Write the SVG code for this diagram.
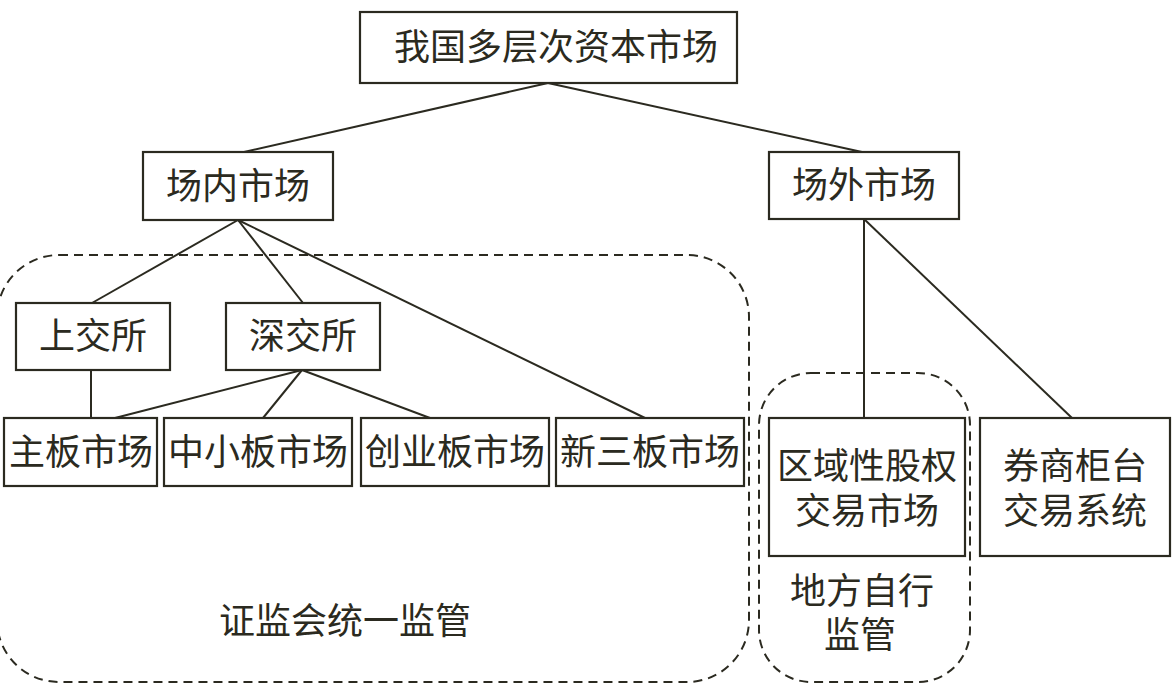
<svg xmlns="http://www.w3.org/2000/svg" width="1172" height="684" viewBox="0 0 1172 684">
<style>
.box{fill:#fff;stroke:#2b2a20;stroke-width:2.2}
.ln{fill:none;stroke:#2b2a20;stroke-width:2}
.dash{fill:none;stroke:#2b2a20;stroke-width:2;stroke-dasharray:9 6}
text{font-family:"Noto Sans CJK SC","Noto Sans",sans-serif;font-size:36px;fill:#2b2a20;text-anchor:middle}
</style>
<rect width="1172" height="684" fill="#fff"/>
<g id="regions">
<rect class="dash" x="-3" y="255" width="752" height="427" rx="62" ry="62"/>
<rect class="dash" x="759" y="373" width="211" height="309" rx="52" ry="52"/>
</g>
<g id="connectors">
<line class="ln" x1="548" y1="83" x2="244" y2="152"/>
<line class="ln" x1="548" y1="83" x2="862" y2="152"/>
<line class="ln" x1="238" y1="220" x2="92" y2="303"/>
<line class="ln" x1="238" y1="220" x2="303" y2="303"/>
<line class="ln" x1="238" y1="220" x2="645" y2="418"/>
<line class="ln" x1="91" y1="370" x2="91" y2="418"/>
<line class="ln" x1="302" y1="370" x2="115" y2="418"/>
<line class="ln" x1="302" y1="370" x2="263" y2="418"/>
<line class="ln" x1="302" y1="370" x2="430" y2="418"/>
<line class="ln" x1="864" y1="219" x2="864" y2="418"/>
<line class="ln" x1="864" y1="219" x2="1072" y2="418"/>
</g>
<g id="root"><rect class="box" x="360" y="12" width="377" height="71"/><text x="556" y="60">我国多层次资本市场</text></g>
<g id="inside"><rect class="box" x="143" y="152" width="190" height="68"/><text x="238" y="199">场内市场</text></g>
<g id="outside"><rect class="box" x="769" y="152" width="190" height="67"/><text x="864" y="198">场外市场</text></g>
<g id="sse"><rect class="box" x="16" y="303" width="154" height="67"/><text x="93" y="349">上交所</text></g>
<g id="szse"><rect class="box" x="226" y="303" width="154" height="67"/><text x="303" y="349">深交所</text></g>
<g id="main"><rect class="box" x="4" y="418" width="153" height="68"/><text x="81" y="465">主板市场</text></g>
<g id="sme"><rect class="box" x="164" y="418" width="188" height="68"/><text x="258" y="465">中小板市场</text></g>
<g id="gem"><rect class="box" x="361" y="418" width="188" height="68"/><text x="455" y="465">创业板市场</text></g>
<g id="neeq"><rect class="box" x="556" y="418" width="188" height="68"/><text x="650" y="465">新三板市场</text></g>
<g id="regional"><rect class="box" x="769" y="418" width="196" height="138"/><text x="867" y="479">区域性股权</text><text x="867" y="524">交易市场</text></g>
<g id="otc"><rect class="box" x="980" y="418" width="190" height="138"/><text x="1075" y="479">券商柜台</text><text x="1075" y="524">交易系统</text></g>
<text x="345" y="634">证监会统一监管</text>
<text x="862" y="604">地方自行</text>
<text x="860" y="648">监管</text>
</svg>
